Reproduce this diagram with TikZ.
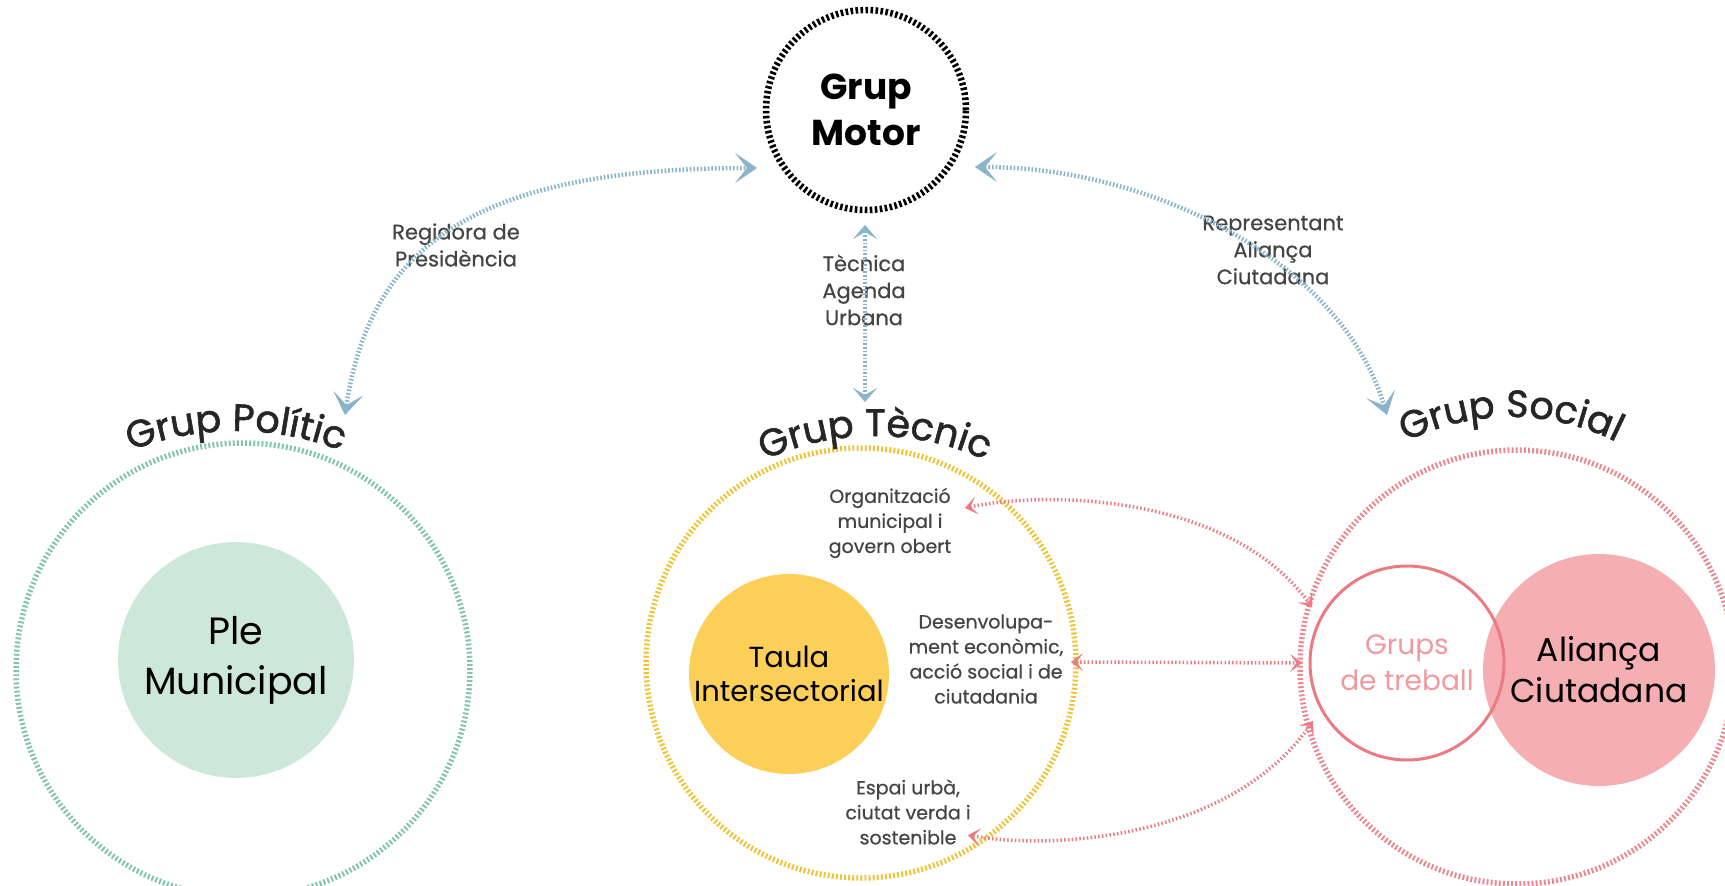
\documentclass[tikz,border=0pt]{standalone}
\usepackage{fontspec}
\setmainfont{Poppins}
\newfontfamily\ttlfam{Poppins}[FakeBold=1.6]
\newfontfamily\medfam{Poppins}[FakeBold=0.6]
\usetikzlibrary{arrows.meta,decorations.text}
\definecolor{blu}{HTML}{8AB4C9}
\definecolor{grn}{HTML}{7FC4AC}
\definecolor{grnf}{HTML}{CDE8DA}
\definecolor{yel}{HTML}{F0C332}
\definecolor{yelf}{HTML}{FCCF58}
\definecolor{pnk}{HTML}{EC8790}
\definecolor{pnkf}{HTML}{F5AEB1}
\definecolor{pnkd}{HTML}{EC7A83}
\definecolor{pnkt}{HTML}{F09AA0}
\definecolor{ttl}{HTML}{262626}
\definecolor{lblc}{HTML}{444444}
\newcommand\ttlfont{\ttlfam\fontsize{38}{40}\selectfont}
\begin{document}
\begin{tikzpicture}[x=1pt,y=-1pt,
  ring/.style={circle, draw, inner sep=0pt, line width=5.5pt, dash pattern=on 1.9pt off 2.2pt},
  motorring/.style={circle, draw=black, inner sep=0pt, line width=6.5pt, dash pattern=on 2.6pt off 2.4pt, minimum size=200pt, align=center, font=\fontsize{36}{46}\selectfont\bfseries, text=black},
  disc/.style={circle, inner sep=0pt, align=center, text=black},
  lbl/.style={align=center, text=lblc, font=\medfam\fontsize{21}{27}\selectfont, inner sep=0pt},
  sub/.style={align=center, text=lblc, font=\medfam\fontsize{19}{25}\selectfont, inner sep=0pt},
  bluearrow/.style={draw=blu, line width=4.5pt, dash pattern=on 1.6pt off 2pt,
     {Stealth[length=22pt,width=30pt,inset=12pt,line width=0.5pt]}-{Stealth[length=22pt,width=30pt,inset=12pt,line width=0.5pt]}},
  bluevert/.style={draw=blu, line width=4pt, dash pattern=on 1.6pt off 2pt,
     {Stealth[length=14pt,width=24pt,inset=7pt,line width=0.5pt]}-{Stealth[length=14pt,width=24pt,inset=7pt,line width=0.5pt]}},
  pinkarrow/.style={draw=pnkd, line width=3.5pt, dash pattern=on 1.5pt off 2.3pt,
     {Stealth[length=12pt,width=18pt,inset=6.5pt,line width=0.5pt]}-{Stealth[length=12pt,width=18pt,inset=6.5pt,line width=0.5pt]}},
  curvtitle/.style={decorate, decoration={text along path, text align=center, text color=ttl}}
]
\useasboundingbox (0,0) rectangle (1725,886);
\clip (0,0) rectangle (1725,886);

% main circles
\node[motorring] (motor) at (866,110) {Grup\\Motor};

\node[ring, draw=grn, minimum size=454pt] (politic) at (243,670) {};
\node[disc, fill=grnf, minimum size=236pt, font=\fontsize{38}{50}\selectfont] (ple) at (236,660) {Ple\\Municipal};

\node[ring, draw=yel, minimum size=430pt] (tecnic) at (861,663) {};
\node[disc, fill=yelf, minimum size=200pt, font=\fontsize{29}{34}\selectfont] (taula) at (789,674) {Taula\\Intersectorial};

\node[ring, draw=pnk, minimum size=434pt] (social) at (1517,667) {};
\node[disc, fill=pnkf, minimum size=232pt, font=\fontsize{33}{41}\selectfont] (alianca) at (1599,670) {Aliança\\Ciutadana};
\node[circle, draw=pnkd, line width=3pt, inner sep=0pt, minimum size=194pt, align=center, text=pnkt, font=\fontsize{28}{36}\selectfont] (grups) at (1407,663) {Grups\\de treball};

% curved titles
\path[curvtitle, decoration={text={|\ttlfont|Grup Polític}}] (236,721) ++(240:290) arc[start angle=240, end angle=300, radius=290];
\path[curvtitle, decoration={text={|\ttlfont|Grup Tècnic}}] (875,701) ++(237:265) arc[start angle=237, end angle=303, radius=265];
\path[curvtitle, decoration={text={|\ttlfont|Grup Social}}] (1511,652) ++(230:235) arc[start angle=230, end angle=310, radius=235];

% labels
\node[lbl] (lreg) at (456,245) {Regidora de\\Presidència};
\node[lbl] (ltec) at (864,290) {Tècnica\\Agenda\\Urbana};
\node[lbl] (lrep) at (1273,250) {Representant\\Aliança\\Ciutadana};
\node[sub] (lorg) at (890,523) {Organització\\municipal i\\govern obert};
\node[sub] (ldes) at (986,659) {Desenvolupa-\\ment econòmic,\\acció social i de\\ciutadania};
\node[sub] (lesp) at (908,812) {Espai urbà,\\ciutat verda i\\sostenible};

% arrow end points
\coordinate (mL) at (757,168);
\coordinate (pT) at (345,415);
\coordinate (mR) at (975,167);
\coordinate (sT) at (1387,415);
\coordinate (mB) at (865,225);
\coordinate (tT) at (865,402);
\coordinate (oA) at (965,508);
\coordinate (sA) at (1312,607);
\coordinate (dA) at (1071,662);
\coordinate (sB) at (1302,663);
\coordinate (eA) at (968,835);
\coordinate (sC) at (1313,721);

% blue connectors
\draw[bluearrow] (pT) .. controls (370,250) and (470,168) .. (mL);
\draw[bluearrow] (mR) .. controls (1150,167) and (1340,260) .. (sT);
\draw[bluevert] (mB) -- (tT);

% pink connectors
\draw[pinkarrow] (oA) .. controls (1050,490) and (1230,495) .. (sA);
\draw[pinkarrow] (dA) -- (sB);
\draw[pinkarrow] (eA) .. controls (1050,850) and (1230,840) .. (sC);
\end{tikzpicture}
\end{document}
